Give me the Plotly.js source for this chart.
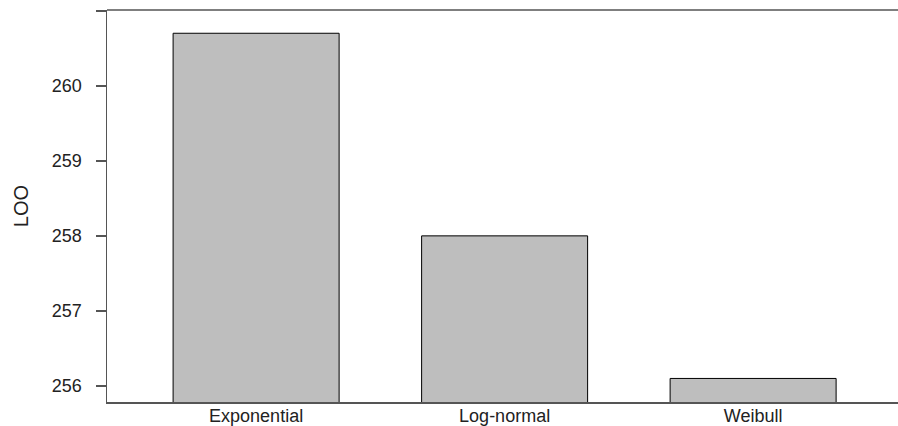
<!DOCTYPE html>
<html>
<head>
<meta charset="utf-8">
<script src="https://cdn.plot.ly/plotly-3.0.1.min.js"></script>
<style>html,body{margin:0;padding:0;background:#fff;}#chart{width:898px;height:426px;}</style>
</head>
<body>
<div id="chart"></div>
<script>
const categories = ["Exponential", "Log-normal", "Weibull"];
const looValues = [260.70, 258.00, 256.10];
const yTickVals = [256, 257, 258, 259, 260, 261];
const yTickText = ["256", "257", "258", "259", "260", ""];

const data = [{
  type: "bar",
  x: categories,
  y: looValues,
  width: 0.668,
  marker: {color: "#bebebe", line: {color: "#000000", width: 1}},
  hoverinfo: "x+y"
}];

const layout = {
  width: 898, height: 426,
  margin: {l: 107, r: 0, t: 10, b: 24},
  paper_bgcolor: "#ffffff", plot_bgcolor: "#ffffff",
  showlegend: false,
  font: {family: "Liberation Sans, Arial, sans-serif", size: 18, color: "#222222"},
  xaxis: {
    type: "category",
    range: [-0.6, 2.583],
    showline: true, linecolor: "#555555", linewidth: 1.5,
    showgrid: false, zeroline: false,
    ticks: "",
    ticklabelstandoff: -3,
    tickfont: {size: 18, color: "#222222"}
  },
  yaxis: {
    range: [255.786, 261.01],
    tickvals: yTickVals, ticktext: yTickText,
    showline: true, linecolor: "#555555", linewidth: 1.5,
    showgrid: false, zeroline: false,
    ticks: "outside", ticklen: 10, tickwidth: 1.5, tickcolor: "#555555",
    ticklabelstandoff: 10,
    tickfont: {size: 18, color: "#222222"},
    title: {text: "LOO", font: {size: 20, color: "#222222"}, standoff: 18}
  },
  shapes: [{
    type: "line", xref: "paper", yref: "paper",
    x0: 0, x1: 1, y0: 1, y1: 1,
    line: {color: "#555555", width: 1.5}
  }]
};

Plotly.newPlot("chart", data, layout, {displayModeBar: false, staticPlot: true});
</script>
</body>
</html>
